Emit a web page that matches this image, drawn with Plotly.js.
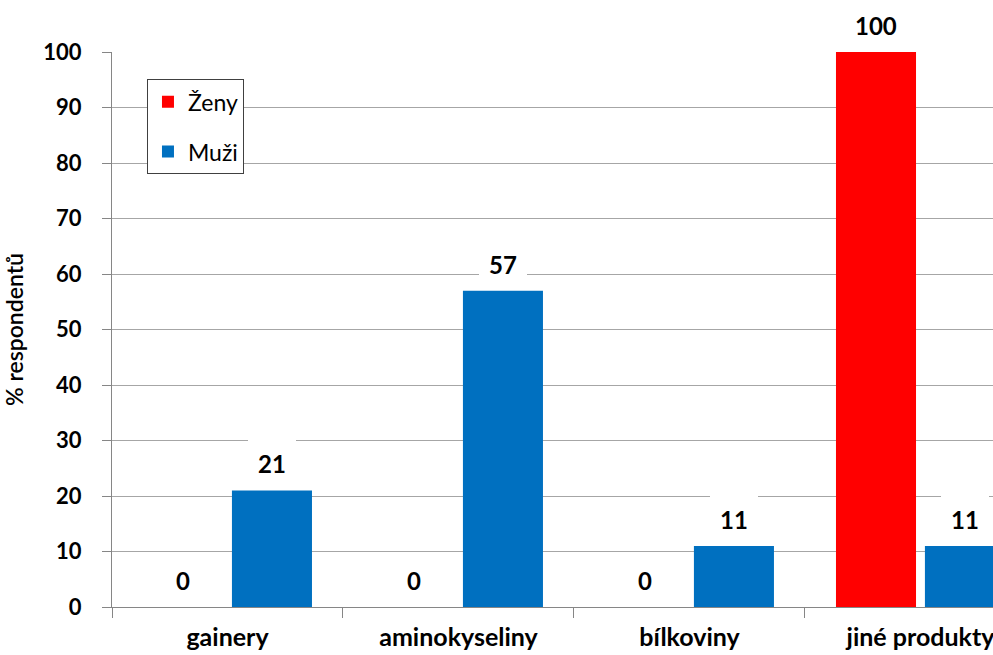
<!DOCTYPE html>
<html>
<head>
<meta charset="utf-8">
<script src="https://cdn.plot.ly/plotly-3.0.1.min.js"></script>
<style>html,body{margin:0;padding:0;background:#fff;overflow:hidden}#chart{width:993px;height:655px}</style>
</head>
<body>
<div id="chart"></div>
<script>
const categories = ["gainery", "aminokyseliny", "bílkoviny", "jiné produkty"];
const zeny = [0, 0, 0, 100];
const muzi = [21, 57, 11, 11];
const seriesNames = ["Ženy", "Muži"];
const yTicks = [0, 10, 20, 30, 40, 50, 60, 70, 80, 90, 100];

const FONT = "Lato, 'Open Sans', sans-serif";
const RED = "#ff0000", BLUE = "#0070c0";

const traces = [
  {type: "bar", name: seriesNames[0], x: categories, y: zeny, marker: {color: RED},
   legendgroup: "a", hoverinfo: "none"},
  {type: "bar", name: seriesNames[1], x: categories, y: muzi, marker: {color: BLUE},
   legendgroup: "b", hoverinfo: "none"}
];

const annotations = [];
const offs = [-44.5, 44.5];
[zeny, muzi].forEach((vals, si) => {
  vals.forEach((v, i) => {
    annotations.push({
      x: categories[i], y: v, xref: "x", yref: "y",
      text: String(v), showarrow: false,
      xanchor: "center", yanchor: "bottom",
      xshift: offs[si], yshift: 2,
      bgcolor: "#ffffff", borderpad: 10, borderwidth: 0,
      font: {family: FONT, size: 24, color: "#000", weight: 700}
    });
  });
});

const layout = {
  width: 993, height: 655,
  margin: {l: 112, r: 0, t: 52, b: 48, pad: 0},
  paper_bgcolor: "#ffffff", plot_bgcolor: "#ffffff",
  barmode: "group", bargap: 0.23, bargroupgap: 0.1,
  showlegend: true,
  legend: {
    x: 0.0397, y: 0.951, xanchor: "left", yanchor: "top",
    bgcolor: "#ffffff", bordercolor: "#404040", borderwidth: 1,
    font: {family: FONT, size: 23, color: "#000"},
    traceorder: "grouped", tracegroupgap: 17
  },
  xaxis: {
    type: "category", range: [-0.5, 3.314],
    tickson: "boundaries", ticks: "outside", ticklen: 10, tickcolor: "#868686",
    showline: true, linecolor: "#868686", linewidth: 1,
    showgrid: false, zeroline: false,
    ticklabelstandoff: 8,
    tickfont: {family: FONT, size: 25, color: "#000", weight: 700}
  },
  yaxis: {
    range: [0, 100], tickvals: yTicks, ticktext: yTicks.map(String),
    ticks: "outside", ticklen: 9, tickcolor: "#868686",
    showline: true, linecolor: "#868686", linewidth: 1,
    showgrid: true, gridcolor: "#a6a6a6", gridwidth: 1,
    zeroline: false, ticklabelstandoff: 16,
    tickfont: {family: FONT, size: 22, color: "#000", weight: 700},
    title: {text: "% respondentů", standoff: 16,
            font: {family: FONT, size: 23, color: "#000", weight: 600}}
  },
  annotations: annotations
};

Plotly.newPlot("chart", traces, layout, {staticPlot: true, displayModeBar: false});
</script>
</body>
</html>
